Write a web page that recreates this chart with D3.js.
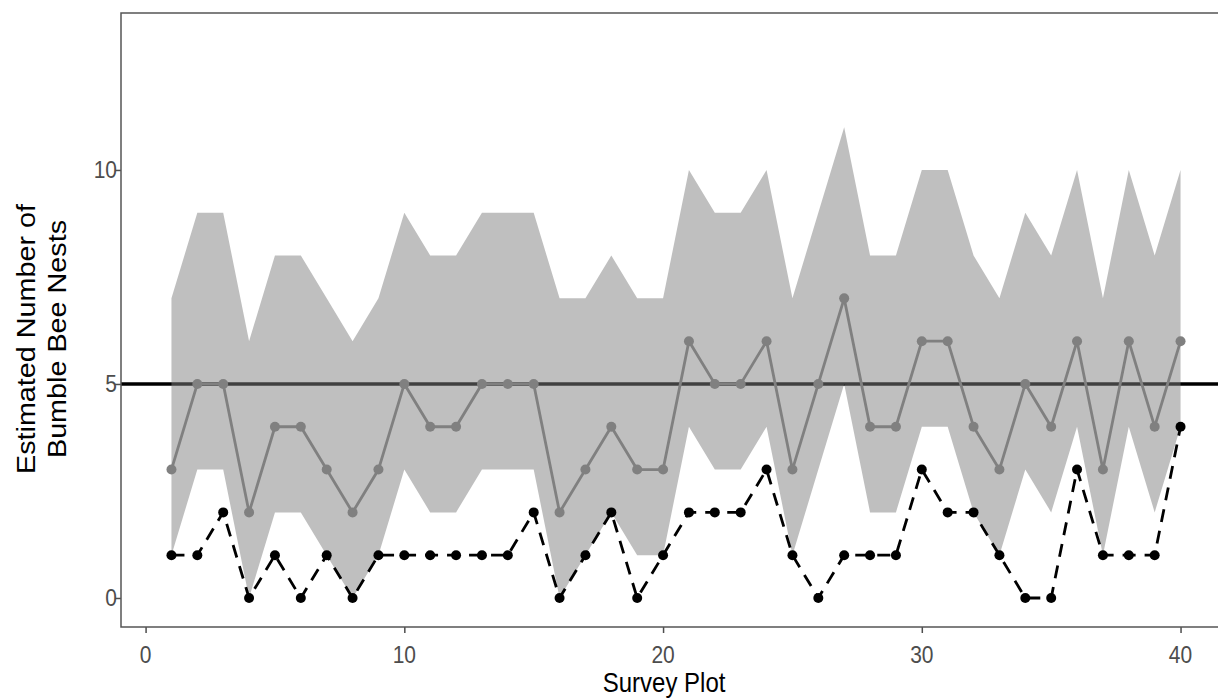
<!DOCTYPE html>
<html>
<head>
<meta charset="utf-8">
<script src="https://cdn.jsdelivr.net/npm/d3@7"></script>
<style>
body { margin: 0; background: #fff; }
svg { display: block; font-family: "Liberation Sans", Arial, sans-serif; }
</style>
</head>
<body>
<script>
// data
var plots = d3.range(1, 41);
var estimate = [3,5,5,2,4,4,3,2,3,5, 4,4,5,5,5,2,3,4,3,3, 6,5,5,6,3,5,7,4,4,6, 6,4,3,5,4,6,3,6,4,6];
var upper    = [7,9,9,6,8,8,7,6,7,9, 8,8,9,9,9,7,7,8,7,7, 10,9,9,10,7,9,11,8,8,10, 10,8,7,9,8,10,7,10,8,10];
var lower    = [1,3,3,0,2,2,1,0,1,3, 2,2,3,3,3,0,1,2,1,1, 4,3,3,4,1,3,5,2,2,4, 4,2,1,3,2,4,1,4,2,4];
var observed = [1,1,2,0,1,0,1,0,1,1, 1,1,1,1,2,0,1,2,0,1, 2,2,2,3,1,0,1,1,1,3, 2,2,1,0,0,3,1,1,1,4];
var target = 5;
var xTicks = [0, 10, 20, 30, 40];
var yTicks = [0, 5, 10];

var dataset = plots.map(function (p, i) {
	return { plot: p, est: estimate[i], lo: lower[i], hi: upper[i], obs: observed[i] };
});

// chart
var W = 1218, H = 700;
var panel = { left: 121, top: 13, right: 1231, bottom: 627 };
var stretch = 1.15; // the picture is a little taller than wide

var svg = d3.select('body')
	.append('svg')
	.attr('width', W)
	.attr('height', H);

var x = d3.scaleLinear().domain([-0.95, 41.95]).range([panel.left, panel.right]);
var y = d3.scaleLinear().domain([-0.678, 13.667]).range([panel.bottom, panel.top]);

svg.append('defs')
	.append('clipPath')
	.attr('id', 'clip')
	.append('rect')
	.attr('x', panel.left)
	.attr('y', panel.top)
	.attr('width', panel.right - panel.left)
	.attr('height', panel.bottom - panel.top);

var g = svg.append('g').attr('clip-path', 'url(#clip)');

// reference line (under the translucent ribbon)
g.append('line')
	.attr('x1', panel.left).attr('x2', panel.right)
	.attr('y1', y(target)).attr('y2', y(target))
	.attr('stroke', '#000')
	.attr('stroke-width', 3.4);

var area = d3.area()
	.x(function (d) { return x(d.plot); })
	.y0(function (d) { return y(d.lo); })
	.y1(function (d) { return y(d.hi); });

g.append('path')
	.datum(dataset)
	.attr('d', area)
	.attr('fill', '#7f7f7f')
	.attr('fill-opacity', 0.5);

// estimate line
var estLine = d3.line()
	.x(function (d) { return x(d.plot); })
	.y(function (d) { return y(d.est); });

g.append('path')
	.datum(dataset)
	.attr('d', estLine)
	.attr('fill', 'none')
	.attr('stroke', '#808080')
	.attr('stroke-width', 2.8);

g.selectAll('circle.est')
	.data(dataset).enter()
	.append('circle')
	.attr('class', 'est')
	.attr('cx', function (d) { return x(d.plot); })
	.attr('cy', function (d) { return y(d.est); })
	.attr('r', 5)
	.attr('fill', '#808080');

// observed line
var obsLine = d3.line()
	.x(function (d) { return x(d.plot); })
	.y(function (d) { return y(d.obs); });

g.append('path')
	.datum(dataset)
	.attr('d', obsLine)
	.attr('fill', 'none')
	.attr('stroke', '#000')
	.attr('stroke-width', 2.8)
	.attr('stroke-dasharray', '13,9');

g.selectAll('circle.obs')
	.data(dataset).enter()
	.append('circle')
	.attr('class', 'obs')
	.attr('cx', function (d) { return x(d.plot); })
	.attr('cy', function (d) { return y(d.obs); })
	.attr('r', 5)
	.attr('fill', '#000');

// axes (tick marks from d3, labels redrawn so they can be stretched)
var x_axis = d3.axisBottom(x).tickValues(xTicks).tickSize(6).tickFormat('');
var y_axis = d3.axisLeft(y).tickValues(yTicks).tickSize(6).tickFormat('');

var gx = svg.append('g')
	.attr('transform', 'translate(0,' + panel.bottom + ')')
	.call(x_axis);
var gy = svg.append('g')
	.attr('transform', 'translate(' + panel.left + ',0)')
	.call(y_axis);

[gx, gy].forEach(function (a) {
	a.select('.domain').remove();
	a.selectAll('line').attr('stroke', '#4d4d4d').attr('stroke-width', 1.5);
	a.selectAll('text').remove();
});

svg.append('g').selectAll('text')
	.data(xTicks).enter()
	.append('text')
	.attr('transform', function (d) { return 'translate(' + x(d) + ',' + 663 + ') scale(1,' + stretch + ')'; })
	.attr('text-anchor', 'middle')
	.attr('fill', '#4d4d4d')
	.style('font-size', '21px')
	.text(function (d) { return d; });

svg.append('g').selectAll('text')
	.data(yTicks).enter()
	.append('text')
	.attr('transform', function (d) { return 'translate(' + 117 + ',' + (y(d) + 8.5) + ') scale(1,' + stretch + ')'; })
	.attr('text-anchor', 'end')
	.attr('fill', '#4d4d4d')
	.style('font-size', '21px')
	.text(function (d) { return d; });

// panel border
svg.append('rect')
	.attr('x', panel.left)
	.attr('y', panel.top)
	.attr('width', panel.right - panel.left)
	.attr('height', panel.bottom - panel.top)
	.attr('fill', 'none')
	.attr('stroke', '#555')
	.attr('stroke-width', 1.5);

// titles
svg.append('text')
	.attr('transform', 'translate(' + (x(20) + 1) + ',692) scale(1,' + stretch + ')')
	.attr('text-anchor', 'middle')
	.style('font-size', '24px')
	.text('Survey Plot');

var yt = svg.append('text')
	.attr('transform', 'translate(0,339) rotate(-90) scale(' + stretch + ',1)')
	.attr('text-anchor', 'middle')
	.style('font-size', '25px');
yt.append('tspan').attr('x', 0).attr('y', 35).text('Estimated Number of');
yt.append('tspan').attr('x', 0).attr('y', 66).text('Bumble Bee Nests');
</script>
</body>
</html>
